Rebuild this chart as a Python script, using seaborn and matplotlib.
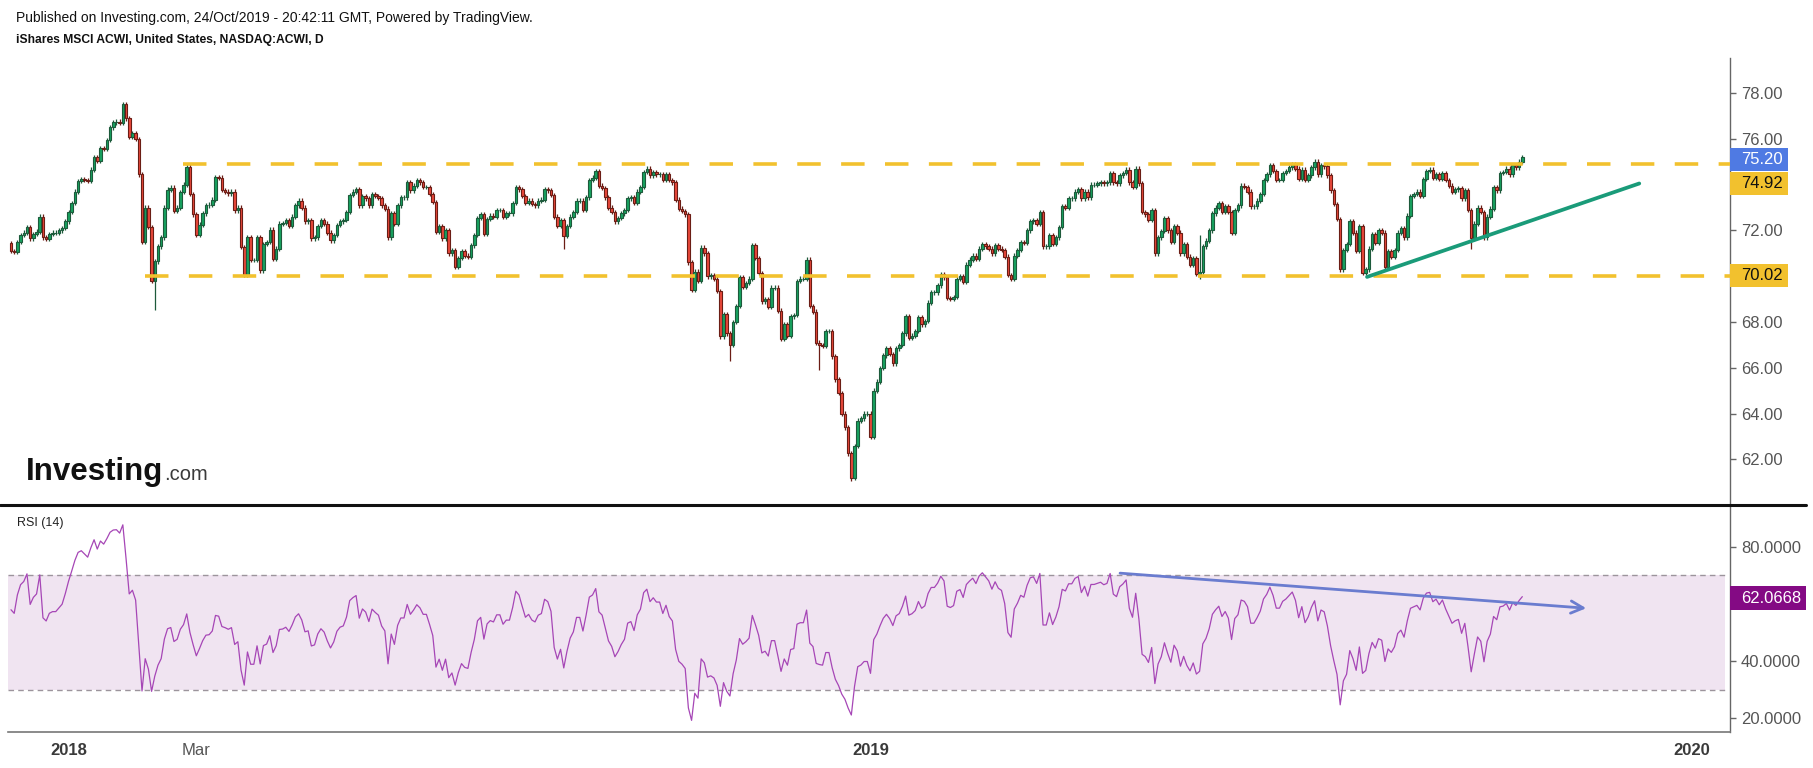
import numpy as np
import matplotlib
matplotlib.use("Agg")
import matplotlib.pyplot as plt
import seaborn as sns
from matplotlib.patches import Rectangle
from matplotlib.transforms import IdentityTransform
from matplotlib.lines import Line2D

# ---------------- data ----------------
closes = [
    71.11, 71.05, 71.5, 71.8, 71.9, 72.15, 71.65, 71.85, 71.95, 72.6,
    71.7, 71.62, 71.85, 71.9, 71.9, 72.0, 72.1, 72.4, 72.8, 73.2,
    73.7, 74.15, 74.25, 74.2, 74.15, 74.66, 75.2, 75.05, 75.6, 75.55,
    75.95, 76.5, 76.72, 76.75, 76.7, 77.5, 76.9, 76.08, 76.25, 76.0,
    74.45, 71.5, 73.0, 72.15, 69.8, 70.65, 71.3, 71.7, 73.0, 73.78,
    73.87, 72.85, 73.0, 73.68, 74.0, 74.78, 73.6, 72.7, 71.8, 72.25,
    72.75, 73.1, 73.13, 73.35, 74.34, 74.3, 73.76, 73.7, 73.62, 73.7,
    72.88, 73.0, 71.28, 70.05, 71.7, 70.7, 70.7, 71.72, 70.26, 71.4,
    71.5, 72.04, 70.77, 71.2, 72.3, 72.33, 72.45, 72.2, 72.6, 73.1,
    73.3, 73.0, 72.4, 72.45, 71.65, 71.7, 72.2, 72.45, 72.3, 71.9,
    71.57, 71.8, 72.23, 72.4, 72.45, 72.8, 73.55, 73.7, 73.8, 73.1,
    73.5, 73.4, 73.1, 73.6, 73.5, 73.42, 73.1, 72.95, 71.7, 72.75,
    72.3, 73.1, 73.45, 73.45, 74.1, 73.75, 73.95, 74.2, 74.1, 73.9,
    73.9, 73.6, 73.25, 71.95, 72.2, 71.65, 72.0, 71.0, 71.15, 70.4,
    70.8, 71.1, 70.9, 70.85, 71.35, 71.8, 72.55, 72.7, 71.85, 72.5,
    72.65, 72.6, 72.9, 72.9, 72.6, 72.75, 72.75, 73.2, 73.9, 73.8,
    73.5, 73.2, 73.3, 73.15, 73.1, 73.3, 73.35, 73.8, 73.75, 73.55,
    72.6, 72.2, 72.45, 71.75, 72.2, 72.6, 72.8, 73.3, 73.3, 72.9,
    73.45, 74.2, 74.3, 74.6, 73.95, 73.85, 73.45, 73.0, 72.8, 72.4,
    72.55, 72.75, 72.9, 73.4, 73.45, 73.2, 73.7, 73.9, 74.55, 74.7,
    74.4, 74.55, 74.45, 74.45, 74.2, 74.45, 74.2, 74.1, 73.35, 72.95,
    72.85, 72.7, 70.6, 69.4, 70.2, 69.8, 71.25, 71.0, 70.0, 70.05,
    69.9, 69.36, 67.38, 68.35, 67.5, 67.0, 68.0, 68.7, 69.95, 69.55,
    69.7, 69.9, 71.35, 70.8, 70.15, 68.9, 69.0, 68.65, 69.5, 69.5,
    68.5, 67.25, 67.9, 67.4, 68.25, 68.3, 69.8, 69.9, 69.9, 70.73,
    68.7, 68.45, 67.1, 67.0, 66.95, 67.6, 67.6, 66.5, 65.5, 64.9,
    64.0, 63.4, 62.26, 61.2, 62.58, 63.7, 63.8, 64.0, 64.0, 63.0,
    65.0, 65.4, 66.0, 66.55, 66.85, 66.6, 66.2, 66.85, 67.0, 67.5,
    68.25, 67.3, 67.4, 67.6, 68.2, 67.9, 68.05, 68.85, 69.3, 69.3,
    69.6, 70.1, 69.95, 69.05, 69.0, 69.1, 69.9, 70.0, 69.75, 70.5,
    70.72, 70.9, 70.75, 71.2, 71.4, 71.3, 71.2, 71.0, 71.35, 71.2,
    71.15, 70.85, 70.05, 69.9, 70.9, 71.15, 71.5, 71.45, 72.0, 72.4,
    72.45, 72.3, 72.8, 71.3, 71.3, 71.8, 71.4, 71.7, 72.15, 73.05,
    73.0, 73.4, 73.4, 73.7, 73.8, 73.4, 73.7, 73.45, 74.0, 74.0,
    74.05, 74.1, 74.05, 74.1, 74.5, 74.1, 74.05, 74.4, 74.5, 74.65,
    74.1, 73.9, 74.7, 74.05, 72.8, 72.7, 72.45, 72.9, 71.0, 71.7,
    71.98, 72.55, 72.0, 71.5, 72.2, 71.9, 71.0, 71.4, 70.85, 70.5,
    70.8, 70.1, 70.2, 71.3, 71.55, 72.0, 72.75, 73.0, 73.2, 72.8,
    73.05, 72.8, 71.9, 72.9, 73.1, 73.95, 73.9, 73.7, 73.05, 73.05,
    73.3, 73.6, 74.2, 74.45, 74.85, 74.6, 74.2, 74.2, 74.5, 74.6,
    74.75, 74.9, 74.7, 74.25, 74.65, 74.2, 74.4, 74.75, 75.0, 74.45,
    74.85, 74.8, 74.4, 73.75, 73.15, 72.5, 70.3, 71.15, 71.4, 72.4,
    71.9, 71.1, 72.2, 70.15, 70.3, 71.2, 71.85, 71.45, 72.0, 71.9,
    70.4, 71.1, 70.85, 71.15, 71.9, 72.1, 71.7, 72.65, 73.5, 73.6,
    73.7, 73.5, 74.25, 74.6, 74.65, 74.3, 74.45, 74.25, 74.5, 74.2,
    73.95, 73.7, 73.8, 73.85, 73.4, 73.75, 72.9, 71.65, 72.3, 73.0,
    72.8, 71.7, 72.6, 72.95, 73.9, 73.75, 74.5, 74.55, 74.7, 74.45,
    74.85, 74.75, 75.0, 75.2,
]
first_open = 71.46
wick_low_idx = [45, 173, 225, 253, 263, 372, 457]
wick_low_val = [68.54, 71.2, 66.3, 65.9, 61.05, 69.9, 71.2]
wick_high_idx = [9, 372]
wick_high_val = [72.7, 71.8]

rsi_seed_gain = 0.12
rsi_seed_loss = 0.087

support_level = 70.02
resist_level = 74.92
last_price = 75.20
last_rsi_label = "62.0668"

trend_x = [424.4, 509.6]
trend_y = [69.97, 74.05]
rsi_arrow_x = [347.1, 493.0]
rsi_arrow_y = [70.8, 58.5]

price_ticks = [62, 64, 66, 68, 72, 76, 78]
rsi_ticks = [20, 40, 80]
x_tick_pos = [18, 58, 100, 143, 187, 229, 269, 309.5, 352, 394, 438.5, 482, 526]
x_tick_lab = ["2018", "Mar", "", "", "", "", "2019", "", "", "", "", "", "2020"]

# ---------------- derived ----------------
c = np.array(closes)
o = np.concatenate([[first_open], c[:-1]])
n = len(c)
idx = np.arange(n)
hi = np.maximum(o, c) + 0.1
lo = np.minimum(o, c) - 0.1
for i, v in zip(wick_low_idx, wick_low_val):
    lo[i] = min(lo[i], v)
for i, v in zip(wick_high_idx, wick_high_val):
    hi[i] = max(hi[i], v)

ag, al = rsi_seed_gain, rsi_seed_loss
rsi = [100 - 100 / (1 + ag / al)]
for dlt in np.diff(c):
    ag = (ag * 13 + max(dlt, 0)) / 14
    al = (al * 13 + max(-dlt, 0)) / 14
    rsi.append(100 - 100 / (1 + ag / al))
rsi = np.array(rsi)

# ---------------- style ----------------
sns.set_style("white")
plt.rcParams["font.family"] = ["Liberation Sans", "DejaVu Sans"]

W, H = 1813, 768
fig = plt.figure(figsize=(W / 100, H / 100), dpi=100)
fig.patch.set_facecolor("white")

def fx(px):
    return px / W

def fy(px):
    return 1 - px / H

left_px, right_px = 8, 1730
top_px, sep_px, bot_px = 58, 505, 732
ax1 = fig.add_axes([fx(left_px), fy(sep_px), fx(right_px - left_px), (sep_px - top_px) / H])
ax2 = fig.add_axes([fx(left_px), fy(bot_px), fx(right_px - left_px), (bot_px - sep_px) / H])

xlim = (-0.94, 538.0)
for ax in (ax1, ax2):
    ax.set_xlim(*xlim)
    ax.set_facecolor("white")
    for s in ("left", "top"):
        ax.spines[s].set_visible(False)
    ax.spines["right"].set_color("#666666")
    ax.spines["right"].set_linewidth(1.0)
ax1.spines["bottom"].set_visible(False)
ax2.spines["bottom"].set_color("#777777")
ax2.spines["bottom"].set_linewidth(1.2)

ax1.set_ylim(60.01, 79.53)
ax2.set_ylim(15.1, 94.7)

# ---------------- candles ----------------
up = c >= o
body_col = np.where(up, "#17a35f", "#e8483b")
edge_col = np.where(up, "#1d5a3b", "#6b1d15")
ax1.vlines(idx, lo, hi, colors=edge_col, linewidth=0.9, zorder=2)
ax1.bar(idx, np.abs(c - o), bottom=np.minimum(o, c), width=0.8,
        color=body_col, edgecolor=edge_col, linewidth=0.8, zorder=3)

# horizontal dashed levels
lw_lvl = 2.6
dash = (6.5, 5.65)
ax1.plot([53.8, xlim[1]], [resist_level, resist_level], color="#f2c12e",
         linewidth=lw_lvl, dashes=dash, solid_capstyle="butt", zorder=4)
ax1.plot([41.9, xlim[1]], [support_level, support_level], color="#f2c12e",
         linewidth=lw_lvl, dashes=dash, solid_capstyle="butt", zorder=4)

# rising trendline
ax1.plot(trend_x, trend_y, color="#1a9b79", linewidth=2.7, solid_capstyle="round", zorder=5)

# axis ticks price
ax1.yaxis.tick_right()
ax1.set_yticks(price_ticks)
ax1.set_yticklabels([f"{v:.2f}" for v in price_ticks])
ax1.tick_params(axis="y", direction="out", length=4, width=1, color="#666666",
                labelcolor="#555555", labelsize=12, pad=4)
ax1.set_xticks([])

# ---------------- RSI ----------------
ax2.axhspan(30, 70, xmin=0, xmax=0.997, color="#f0e4f1", zorder=0, linewidth=0)
ax2.plot([xlim[0], 536.5], [70, 70], color="#9c949c", linewidth=1.0, dashes=(4, 3), zorder=1)
ax2.plot([xlim[0], 536.5], [30, 30], color="#9c949c", linewidth=1.0, dashes=(4, 3), zorder=1)
sns.lineplot(x=idx, y=rsi, ax=ax2, color="#a646b6", linewidth=0.9, zorder=3)
ax2.annotate("", xy=(rsi_arrow_x[1], rsi_arrow_y[1]), xytext=(rsi_arrow_x[0], rsi_arrow_y[0]),
             arrowprops=dict(arrowstyle="->", color="#6a7ccf", lw=2.0, mutation_scale=22,
                             shrinkA=0, shrinkB=0), zorder=4)
ax2.set_xlabel("")
ax2.set_ylabel("")
ax2.yaxis.tick_right()
ax2.set_yticks(rsi_ticks)
ax2.set_yticklabels([f"{v:.4f}" for v in rsi_ticks])
ax2.tick_params(axis="y", direction="out", length=4, width=1, color="#666666",
                labelcolor="#555555", labelsize=12, pad=4)
ax2.set_xticks(x_tick_pos)
ax2.set_xticklabels(x_tick_lab)
ax2.tick_params(axis="x", direction="out", length=5, width=1, color="#777777",
                labelsize=12, pad=3)
for lab in ax2.get_xticklabels():
    if lab.get_text().isdigit():
        lab.set_fontweight("bold")
        lab.set_color("#3a3a3a")
    else:
        lab.set_color("#555555")
fig.text(fx(17), fy(523), "RSI (14)", fontsize=9, color="#222222", va="center", ha="left")

# ---------------- separator line ----------------
fig.add_artist(Line2D([0, fx(1806)], [fy(sep_px), fy(sep_px)], transform=fig.transFigure,
                      color="#111111", linewidth=2.2, zorder=10))

# ---------------- value tags ----------------
ident = IdentityTransform()

def tag(ax, value, text, fc, tc, right, shift_px=0.0, h=23):
    yd = ax.transData.transform((0, value))[1] - shift_px
    fig.add_artist(Rectangle((right_px, yd - h / 2), right - right_px, h, transform=ident,
                             facecolor=fc, edgecolor="none", zorder=20))
    fig.text(right_px + 11, yd, text, transform=ident, color=tc, fontsize=12,
             va="center", ha="left", zorder=21)

tag(ax1, last_price, f"{last_price:.2f}", "#4f7ae3", "white", 1788, shift_px=2)
tag(ax1, resist_level, f"{resist_level:.2f}", "#f2c12e", "#111111", 1788, shift_px=20)
tag(ax1, support_level, f"{support_level:.2f}", "#f2c12e", "#111111", 1788, shift_px=0)
tag(ax2, float(last_rsi_label), last_rsi_label, "#840a84", "white", 1806, shift_px=0, h=24)

# ---------------- header & logo ----------------
fig.text(fx(16), fy(18), "Published on Investing.com, 24/Oct/2019 - 20:42:11 GMT, Powered by TradingView.",
         fontsize=10, color="#111111", va="center", ha="left")
fig.text(fx(16), fy(40), "iShares MSCI ACWI, United States, NASDAQ:ACWI, D",
         fontsize=8.7, fontweight="bold", color="#111111", va="center", ha="left")

logo = fig.text(fx(26), fy(480), "Investing", fontsize=22.5, fontweight="bold",
                color="#111111", va="baseline", ha="left")
fig.canvas.draw()
bb = logo.get_window_extent()
fig.text(bb.x1 + 1, H - 480, ".com", transform=ident, fontsize=14.5, color="#3a3a3a",
         va="baseline", ha="left")

fig.savefig("out.png", dpi=100, facecolor="white")
